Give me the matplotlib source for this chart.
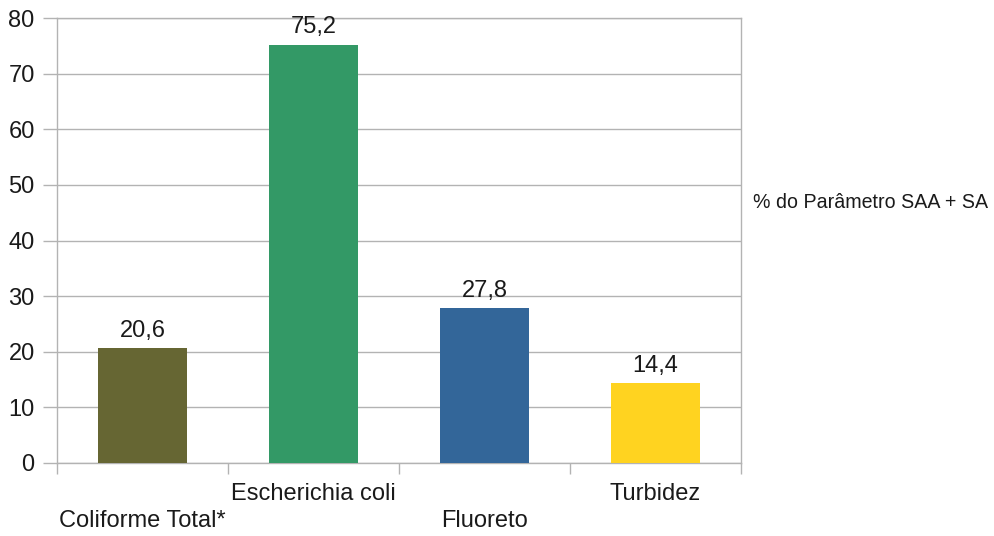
import numpy as np
import matplotlib.pyplot as plt

plt.rcParams['font.family'] = ['Liberation Sans', 'DejaVu Sans']

categorias = ['Coliforme Total*', 'Escherichia coli', 'Fluoreto', 'Turbidez']
valores = [20.6, 75.2, 27.8, 14.4]
cores = ['#666633', '#339966', '#336699', '#ffd320']
yticks = [0, 10, 20, 30, 40, 50, 60, 70, 80]
legenda = '% do Parâmetro SAA + SA'

texto = '#1a1a1a'
cinza = '#b3b3b3'

fig = plt.figure(figsize=(9.94, 5.36), dpi=100)
ax = fig.add_axes([0.0573, 0.1362, 0.6882, 0.8302])

x = np.arange(len(categorias))
ax.bar(x, valores, width=0.515, color=cores, zorder=3)

# rótulos de valor acima das barras
for xi, v in zip(x, valores):
    ax.annotate(f'{v:.1f}'.replace('.', ','), (xi, v), xytext=(0, 4.5),
                textcoords='offset points', ha='center', va='bottom',
                fontsize=17, color=texto)

ax.set_xlim(-0.5, len(categorias) - 0.5)
ax.set_ylim(0, 80)
ax.set_yticks(yticks)
ax.set_yticklabels([str(t) for t in yticks], fontsize=17, color=texto)
ax.yaxis.grid(True, color=cinza, linewidth=1, zorder=0)

# rótulos alternados (em cima / embaixo)
ax.set_xticks(x)
ax.set_xticklabels([('\n' + c) if i % 2 == 0 else c for i, c in enumerate(categorias)],
                   fontsize=17, color=texto, linespacing=1.3)
ax.tick_params(axis='x', which='major', length=0, pad=14.5)
ax.set_xticks(np.arange(-0.5, len(categorias)), minor=True)
ax.tick_params(axis='x', which='minor', length=8, color=cinza, width=1)
ax.tick_params(axis='y', length=10, color=cinza, width=1, pad=6)

for s in ax.spines.values():
    s.set_color(cinza)
    s.set_linewidth(1)

fig.text(753 / 994, 1 - 202 / 536, legenda, fontsize=14.1, color=texto,
         ha='left', va='center')

fig.savefig('out.png', dpi=100)
